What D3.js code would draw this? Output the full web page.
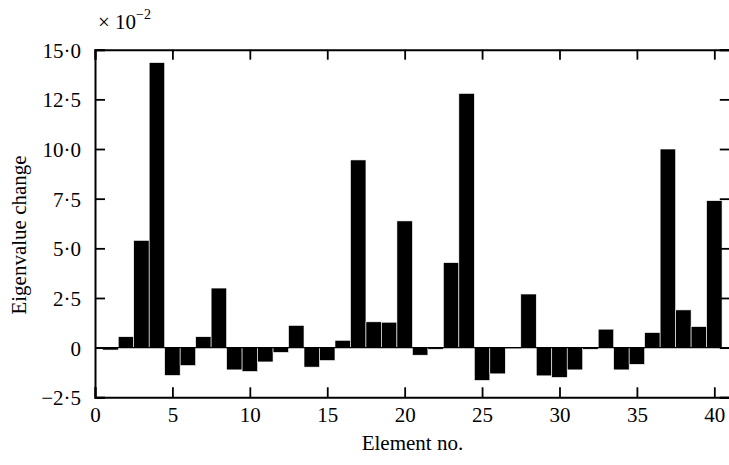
<!DOCTYPE html>
<html>
<head>
<meta charset="utf-8">
<title>Eigenvalue change</title>
<style>
  body { margin: 0; background: #fff; }
  svg text { font-family: 'Liberation Serif', 'DejaVu Serif', serif; fill: #000; }
</style>
<script src="https://d3js.org/d3.v7.min.js"></script>
</head>
<body>
<svg id="chart" width="729" height="465"></svg>
<script>
// element numbers and eigenvalue change (x 10^-2)
var elements = d3.range(1, 41);
var changes = [
  -0.12, 0.55, 5.4, 14.35, -1.4, -0.9, 0.55, 3.0, -1.12, -1.2,
  -0.72, -0.24, 1.12, -0.98, -0.65, 0.37, 9.45, 1.3, 1.28, 6.38,
  -0.38, -0.08, 4.28, 12.8, -1.65, -1.32, -0.05, 2.7, -1.42, -1.5,
  -1.12, -0.08, 0.93, -1.12, -0.84, 0.76, 10.0, 1.9, 1.06, 7.4
];
var yTicks = [-2.5, 0, 2.5, 5, 7.5, 10, 12.5, 15];
var xTicks = [0, 5, 10, 15, 20, 25, 30, 35, 40];

var svg = d3.select("#chart");
var x = d3.scaleLinear().domain([0, 41]).range([95, 729.8]);
var y = d3.scaleLinear().domain([-2.5, 15]).range([397.3, 49.7]);

function fmt(v) {
  if (v === 0) return "0";
  var s = Math.abs(v).toFixed(1).replace(".", "\u00b7");
  return (v < 0 ? "\u2212" : "") + s;
}

// bars
svg.append("g").selectAll("rect")
  .data(elements)
  .join("rect")
  .attr("x", (d) => x(d - 0.5))
  .attr("width", (d) => x(d + 0.5) - x(d - 0.5))
  .attr("y", (d, i) => y(Math.max(0, changes[i])))
  .attr("height", (d, i) => Math.abs(y(changes[i]) - y(0)))
  .attr("fill", "#000")
  .attr("stroke", "#fff")
  .attr("stroke-width", 0.6);

// zero line
svg.append("line")
  .attr("x1", x(0)).attr("x2", x(41))
  .attr("y1", y(0)).attr("y2", y(0))
  .attr("stroke", "#000").attr("stroke-width", 1.2);

// axes, ticks pointing inward
var bottom = svg.append("g").attr("transform", "translate(0," + y(-2.5) + ")")
  .call(d3.axisBottom(x).tickValues(xTicks).tickSize(-10).tickPadding(10).tickFormat(d3.format("d")));
var top_ = svg.append("g").attr("transform", "translate(0," + y(15) + ")")
  .call(d3.axisTop(x).tickValues(xTicks).tickSize(-10).tickFormat(""));
var left = svg.append("g").attr("transform", "translate(" + x(0) + ",0)")
  .call(d3.axisLeft(y).tickValues(yTicks).tickSize(-10).tickPadding(14).tickFormat(fmt));
var right = svg.append("g").attr("transform", "translate(" + x(41) + ",0)")
  .call(d3.axisRight(y).tickValues(yTicks).tickSize(-10).tickFormat(""));

[bottom, top_, left, right].forEach(function (g) {
  g.select(".domain").attr("stroke", "#000").attr("stroke-width", 2);
  g.selectAll(".tick line").attr("stroke", "#000").attr("stroke-width", 1.8);
  g.selectAll(".tick text").style("font-family", "'Liberation Serif', serif")
    .style("font-size", "21px").attr("fill", "#000");
});
left.selectAll(".tick text").attr("dy", "0.35em");

// multiplier label
var mult = svg.append("text").attr("x", 98).attr("y", 29).style("font-size", "21px");
mult.append("tspan").text("\u00d7 10");
mult.append("tspan").attr("dy", -10).style("font-size", "14px").text("\u22122");

// axis titles
svg.append("text")
  .attr("x", x(20.5)).attr("y", 450)
  .attr("text-anchor", "middle")
  .style("font-size", "21px")
  .text("Element no.");

svg.append("text")
  .attr("transform", "translate(26,235) rotate(-90)")
  .attr("text-anchor", "middle")
  .style("font-size", "21px")
  .text("Eigenvalue change");
</script>
</body>
</html>
